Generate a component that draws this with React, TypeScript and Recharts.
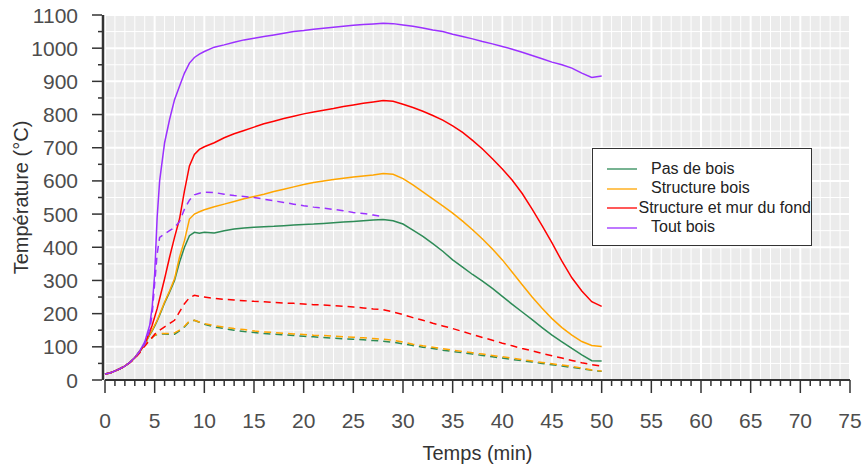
import { LineChart, Line, XAxis, YAxis, CartesianGrid, Label } from 'recharts';

// temps en minutes
const temps = [
  0, 0.5, 1, 1.5, 2, 2.5, 3, 3.5, 4,
  4.5, 4.75, 5, 5.25, 5.5,
  6, 6.5, 7, 7.5, 8, 8.5, 9, 9.5, 10,
  11, 12, 13, 14, 15, 16, 17, 18, 19, 20,
  21, 22, 23, 24, 25, 26, 27, 28, 29, 30,
  31, 32, 33, 34, 35, 36, 37, 38, 39, 40,
  41, 42, 43, 44, 45, 46, 47, 48, 49, 50,
];

// traits pleins
const pasDeBois = [
  18, 21, 27, 34, 42, 53, 67, 86, 108,
  136, 148, 162, 178, 195,
  232, 265, 300, 355, 400, 435, 445, 442, 445,
  443, 450, 455, 458, 460, 462, 463, 465, 467, 469,
  470, 472, 474, 476, 478, 480, 482, 484, 480, 470,
  452, 433, 411, 388, 362, 340, 318, 298, 276, 252,
  228, 205, 182, 158, 135, 115, 95, 76, 58, 57,
];
const structureBois = [
  18, 21, 27, 34, 42, 53, 67, 86, 108,
  138, 150, 165, 180, 198,
  235, 268, 305, 370, 420, 485, 500, 507, 513,
  522, 530, 538, 546, 553, 560, 568, 575, 582, 589,
  595, 600, 604, 608, 612, 615, 618, 622, 620, 607,
  588, 567, 546, 525, 503, 479, 453, 425, 395, 362,
  325, 287, 250, 216, 185, 158, 135, 116, 104, 101,
];
const murDuFond = [
  18, 21, 27, 34, 42, 53, 67, 86, 108,
  145, 165, 190, 215, 245,
  305, 370, 430, 485, 570, 645, 680, 695, 703,
  715, 730, 742, 752, 762, 772, 780, 788, 795, 802,
  808, 813, 818, 824, 829, 834, 838, 842, 840, 831,
  821, 810, 797, 783, 766, 746, 722, 696, 667, 636,
  602, 562, 515, 465, 413, 358, 308, 268, 236, 222,
];
const toutBois = [
  18, 21, 27, 34, 42, 53, 68, 88, 115,
  165, 220, 320, 490, 600,
  715, 785, 845, 885, 925, 955, 972, 982, 990,
  1003, 1010, 1018, 1025, 1030, 1035, 1040, 1045, 1050, 1053,
  1057, 1060, 1063, 1066, 1069, 1071, 1073, 1075, 1074, 1070,
  1066, 1061, 1055, 1050, 1042, 1035, 1028, 1020, 1013, 1005,
  997, 988, 978, 968, 958, 950, 940, 925, 912, 916,
];

// traits pointillés
const pasDeBoisB = [
  18, 21, 27, 34, 42, 53, 67, 86, 106,
  122, 128, 134, 137, 139,
  139, 138, 138, 148, 160, 176, 180, 174, 168,
  160, 155, 150, 146, 143, 140, 138, 136, 134, 132,
  130, 128, 126, 124, 123, 121, 119, 117, 114, 109,
  104, 99, 95, 90, 86, 82, 78, 74, 70, 66,
  62, 58, 54, 50, 46, 42, 38, 34, 29, 26,
];
const structureBoisB = [
  18, 21, 27, 34, 42, 53, 67, 86, 106,
  122, 128, 135, 138, 140,
  140, 140, 142, 150, 162, 178, 180, 175, 170,
  164, 159, 155, 152, 148, 145, 143, 141, 139, 137,
  135, 134, 132, 130, 129, 127, 125, 123, 120, 114,
  108, 103, 99, 94, 90, 86, 82, 78, 74, 70,
  66, 61, 57, 53, 49, 45, 41, 36, 30, 27,
];
const murDuFondB = [
  18, 21, 27, 34, 42, 52, 65, 82, 102,
  120, 128, 138, 145, 150,
  160, 170, 180, 205, 230, 248, 255, 252, 250,
  246, 243, 241, 239, 237, 236, 234, 232, 231, 229,
  227, 226, 224, 222, 220, 217, 214, 212, 205, 197,
  188, 180, 171, 163, 155, 146, 137, 128, 120, 111,
  103, 95, 88, 80, 73, 66, 59, 52, 46, 42,
];
const toutBoisB = [
  18, 21, 27, 34, 42, 53, 67, 86, 108,
  150, 200, 290, 380, 430,
  440, 450, 460, 477, 515, 542, 558, 563, 566,
  565, 560, 556, 553, 550, 545, 540, 535, 530, 525,
  521, 518, 514, 510, 505, 502, 497, 492, null, null,
  null, null, null, null, null, null, null, null, null, null,
  null, null, null, null, null, null, null, null, null, null,
];

const xTicks = Array.from({ length: 76 }, (_, i) => i); // 0..75, labels every 5
const yTicks = Array.from({ length: 23 }, (_, i) => i * 50); // 0..1100, labels every 100

const series = [
  { key: 'pasDeBois', name: 'Pas de bois', color: '#2E8B57', values: pasDeBois, dashed: false },
  { key: 'structureBois', name: 'Structure bois', color: '#FFA500', values: structureBois, dashed: false },
  { key: 'murDuFond', name: 'Structure et mur du fond', color: '#FF0000', values: murDuFond, dashed: false },
  { key: 'toutBois', name: 'Tout bois', color: '#9B30FF', values: toutBois, dashed: false },
  { key: 'pasDeBoisB', name: 'Pas de bois', color: '#2E8B57', values: pasDeBoisB, dashed: true },
  { key: 'structureBoisB', name: 'Structure bois', color: '#FFA500', values: structureBoisB, dashed: true },
  { key: 'murDuFondB', name: 'Structure et mur du fond', color: '#FF0000', values: murDuFondB, dashed: true },
  { key: 'toutBoisB', name: 'Tout bois', color: '#9B30FF', values: toutBoisB, dashed: true },
];

const data = temps.map((t, i) => {
  const row: any = { t };
  series.forEach((s) => { row[s.key] = s.values[i]; });
  return row;
});

const FONT = '"Liberation Sans", Arial, sans-serif';
const AXIS = '#333333';
const TEXT = '#4D4D4D';

const XTick = ({ x, y, payload }: any) => {
  const major = payload.value % 5 === 0;
  return (
    <g>
      <line x1={x} x2={x} y1={y} y2={y + (major ? 13 : 6)} stroke={AXIS} strokeWidth={1.5} />
      {major && (
        <text x={x} y={y + 48} textAnchor="middle" fill={TEXT} fontSize={21} fontFamily={FONT}>
          {payload.value}
        </text>
      )}
    </g>
  );
};

const YTick = ({ x, y, payload }: any) => {
  const major = payload.value % 100 === 0;
  return (
    <g>
      <line x1={x - 3} x2={x - (major ? 13 : 7)} y1={y} y2={y} stroke={AXIS} strokeWidth={1.5} />
      {major && (
        <text x={x - 27} y={y + 7.5} textAnchor="end" fill={TEXT} fontSize={21} fontFamily={FONT}>
          {payload.value}
        </text>
      )}
    </g>
  );
};

const gridLine = (every: number) => (props: any) => {
  const major = props.index % every === 0;
  return (
    <line
      key={props.key}
      x1={props.x1}
      y1={props.y1}
      x2={props.x2}
      y2={props.y2}
      stroke="#FFFFFF"
      strokeWidth={major ? 2 : 1}
    />
  );
};

const LegendBox = () => (
  <div
    style={{
      position: 'absolute',
      left: 592,
      top: 148,
      width: 220,
      height: 98,
      border: '1.5px solid #333',
      background: '#fff',
      fontFamily: FONT,
      fontSize: 16,
      color: '#222',
      paddingTop: 10,
      boxSizing: 'border-box',
    }}
  >
    {series.filter((s) => !s.dashed).map((s) => (
      <div key={s.key} style={{ display: 'flex', alignItems: 'center', height: 19.5 }}>
        <svg width={58} height={19.5}>
          <line x1={14} x2={44} y1={10} y2={10} stroke={s.color} strokeOpacity={0.65} strokeWidth={2} />
        </svg>
        <span style={{ whiteSpace: 'nowrap' }}>{s.name}</span>
      </div>
    ))}
  </div>
);

export default function App() {
  return (
    <div style={{ position: 'absolute', left: 0, top: 0, width: 865, height: 465, background: '#fff' }}>
      <LineChart width={865} height={465} data={data} margin={{ top: 15, right: 15, bottom: 0, left: 0 }}>
        <CartesianGrid
          fill="#EBEBEB"
          fillOpacity={1}
          stroke="#FFFFFF"
          vertical={gridLine(5)}
          horizontal={gridLine(2)}
        />
        <XAxis
          dataKey="t"
          type="number"
          domain={[0, 75]}
          ticks={xTicks}
          interval={0}
          height={85}
          tickSize={0}
          tickMargin={0}
          tickLine={false}
          axisLine={{ stroke: AXIS, strokeWidth: 2 }}
          tick={<XTick />}
        >
          <Label
            content={({ viewBox }: any) => (
              <text
                x={viewBox.x + viewBox.width / 2}
                y={viewBox.y + 80}
                textAnchor="middle"
                fill="#333"
                fontSize={20}
                fontFamily={FONT}
              >
                Temps (min)
              </text>
            )}
          />
        </XAxis>
        <YAxis
          type="number"
          domain={[0, 1100]}
          ticks={yTicks}
          interval={0}
          width={105}
          tickSize={0}
          tickMargin={0}
          tickLine={false}
          axisLine={{ stroke: AXIS, strokeWidth: 2.5, transform: 'translate(-2 0)' }}
          tick={<YTick />}
        >
          <Label
            content={({ viewBox }: any) => (
              <text
                x={28}
                y={viewBox.y + viewBox.height / 2}
                textAnchor="middle"
                fill="#333"
                fontSize={20}
                fontFamily={FONT}
                transform={`rotate(-90 28 ${viewBox.y + viewBox.height / 2})`}
              >
                Température (°C)
              </text>
            )}
          />
        </YAxis>
        {series.map((s) => (
          <Line
            key={s.key}
            dataKey={s.key}
            name={s.name}
            type="linear"
            stroke={s.color}
            strokeWidth={1.5}
            strokeDasharray={s.dashed ? '7 5' : undefined}
            dot={false}
            activeDot={false}
            connectNulls={false}
            isAnimationActive={false}
          />
        ))}
      </LineChart>
      <LegendBox />
    </div>
  );
}
